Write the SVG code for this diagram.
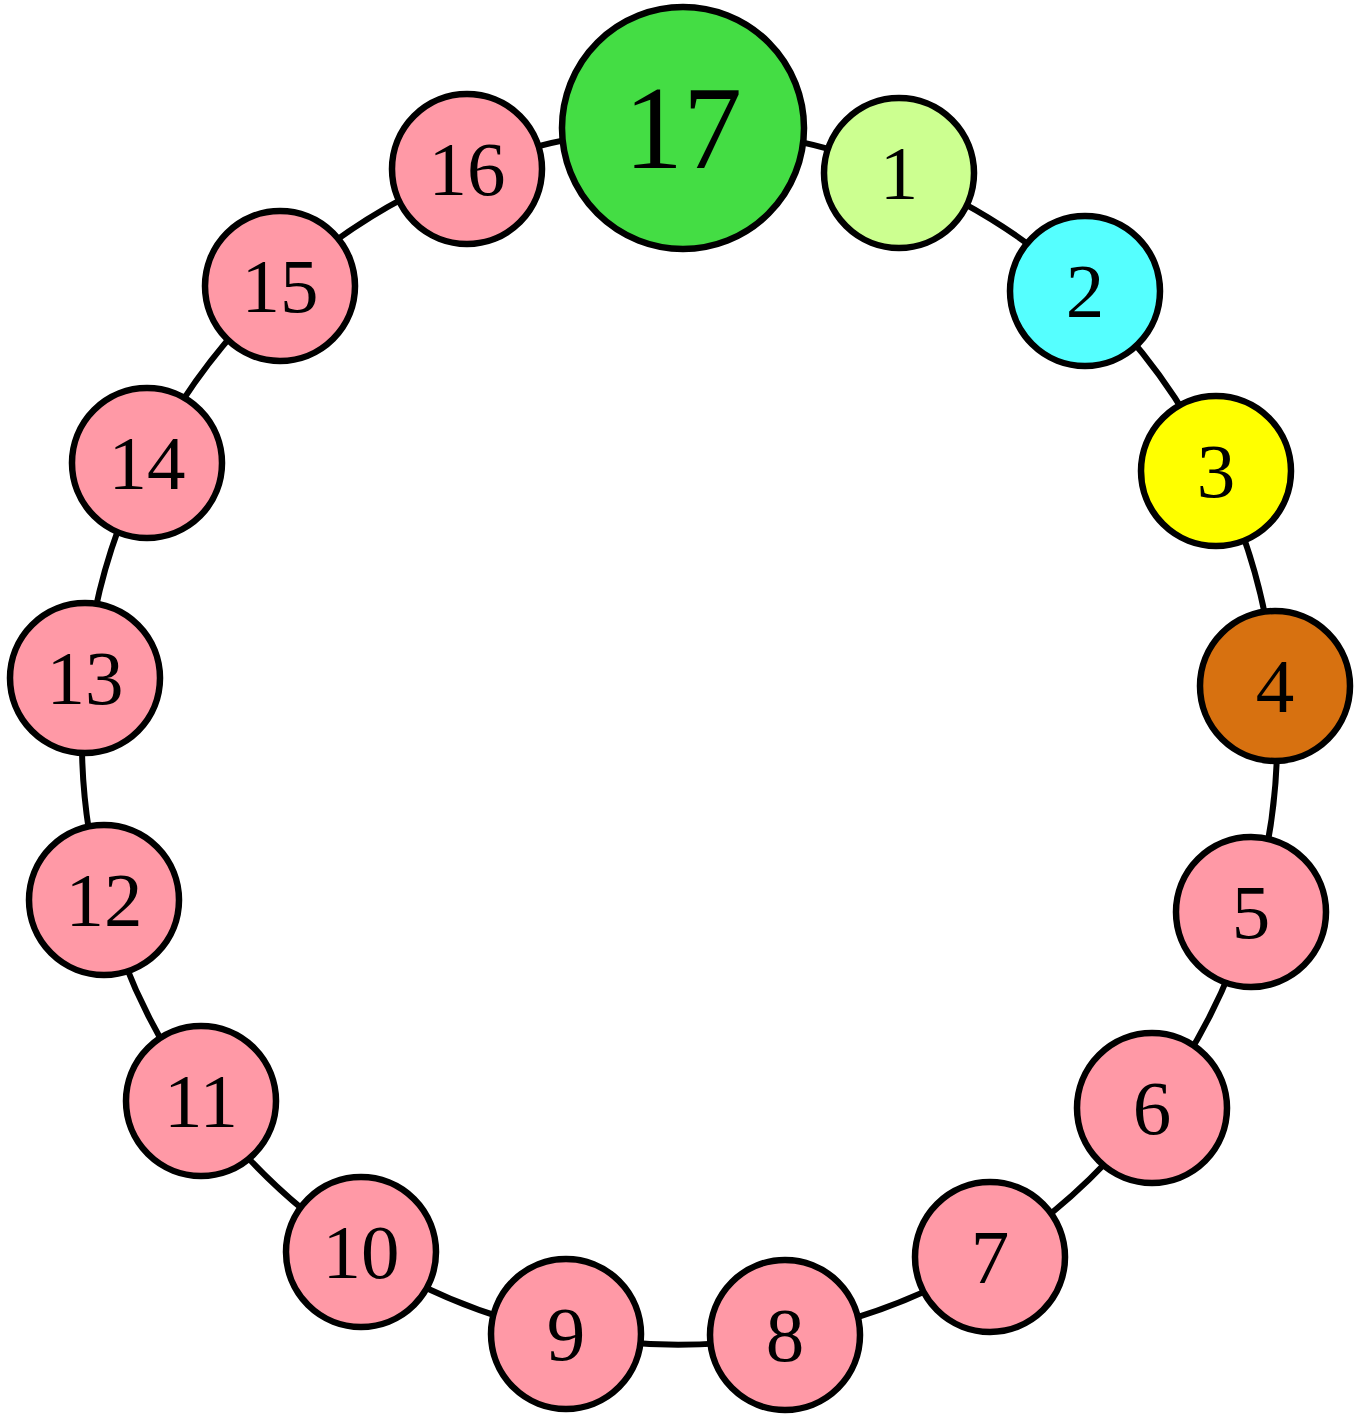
<svg xmlns="http://www.w3.org/2000/svg" width="1362" height="1416" viewBox="0 0 1362 1416">
<style>
.e{fill:none;stroke:#000;stroke-width:6}
.n{stroke:#000;stroke-width:6.5}
.p{fill:#FF99A6}
.t{font-family:"Liberation Serif","Times New Roman",serif;font-size:77px;text-anchor:middle;fill:#000}
.tb{font-size:118px}
</style>
<rect width="1362" height="1416" fill="#fff"/>
<g id="edges">
<path class="e" d="M683 128 A600 600 0 0 1 899 173"/>
<path class="e" d="M899 173 A600 600 0 0 1 1085 291"/>
<path class="e" d="M1085 291 A600 600 0 0 1 1216 471"/>
<path class="e" d="M1216 471 A600 600 0 0 1 1275 686"/>
<path class="e" d="M1275 686 A600 600 0 0 1 1251 912"/>
<path class="e" d="M1251 912 A600 600 0 0 1 1152 1108"/>
<path class="e" d="M1152 1108 A600 600 0 0 1 990 1257"/>
<path class="e" d="M990 1257 A600 600 0 0 1 785 1335"/>
<path class="e" d="M785 1335 A600 600 0 0 1 566 1334"/>
<path class="e" d="M566 1334 A600 600 0 0 1 361 1252"/>
<path class="e" d="M361 1252 A600 600 0 0 1 201 1101"/>
<path class="e" d="M201 1101 A600 600 0 0 1 104 900"/>
<path class="e" d="M104 900 A600 600 0 0 1 85 678"/>
<path class="e" d="M85 678 A600 600 0 0 1 147 463"/>
<path class="e" d="M147 463 A600 600 0 0 1 280 286"/>
<path class="e" d="M280 286 A600 600 0 0 1 467 169"/>
<path class="e" d="M467 169 A600 600 0 0 1 683 128"/>
</g>
<g id="node17"><circle class="n" cx="683" cy="128" r="121" fill="#44DD44"/><text class="t tb" x="683" y="168">17</text></g>
<g id="node1"><circle class="n" cx="899" cy="173" r="75" fill="#CCFF90"/><text class="t" x="899" y="199">1</text></g>
<g id="node2"><circle class="n" cx="1085" cy="291" r="75" fill="#55FFFF"/><text class="t" x="1085" y="317">2</text></g>
<g id="node3"><circle class="n" cx="1216" cy="471" r="75" fill="#FFFF00"/><text class="t" x="1216" y="497">3</text></g>
<g id="node4"><circle class="n" cx="1275" cy="686" r="75" fill="#D77110"/><text class="t" x="1275" y="712">4</text></g>
<g id="node5"><circle class="n p" cx="1251" cy="912" r="75"/><text class="t" x="1251" y="938">5</text></g>
<g id="node6"><circle class="n p" cx="1152" cy="1108" r="75"/><text class="t" x="1152" y="1134">6</text></g>
<g id="node7"><circle class="n p" cx="990" cy="1257" r="75"/><text class="t" x="990" y="1283">7</text></g>
<g id="node8"><circle class="n p" cx="785" cy="1335" r="75"/><text class="t" x="785" y="1361">8</text></g>
<g id="node9"><circle class="n p" cx="566" cy="1334" r="75"/><text class="t" x="566" y="1360">9</text></g>
<g id="node10"><circle class="n p" cx="361" cy="1252" r="75"/><text class="t" x="361" y="1278">10</text></g>
<g id="node11"><circle class="n p" cx="201" cy="1101" r="75"/><text class="t" x="201" y="1127">11</text></g>
<g id="node12"><circle class="n p" cx="104" cy="900" r="75"/><text class="t" x="104" y="926">12</text></g>
<g id="node13"><circle class="n p" cx="85" cy="678" r="75"/><text class="t" x="85" y="704">13</text></g>
<g id="node14"><circle class="n p" cx="147" cy="463" r="75"/><text class="t" x="147" y="489">14</text></g>
<g id="node15"><circle class="n p" cx="280" cy="286" r="75"/><text class="t" x="280" y="312">15</text></g>
<g id="node16"><circle class="n p" cx="467" cy="169" r="75"/><text class="t" x="467" y="195">16</text></g>
</svg>
